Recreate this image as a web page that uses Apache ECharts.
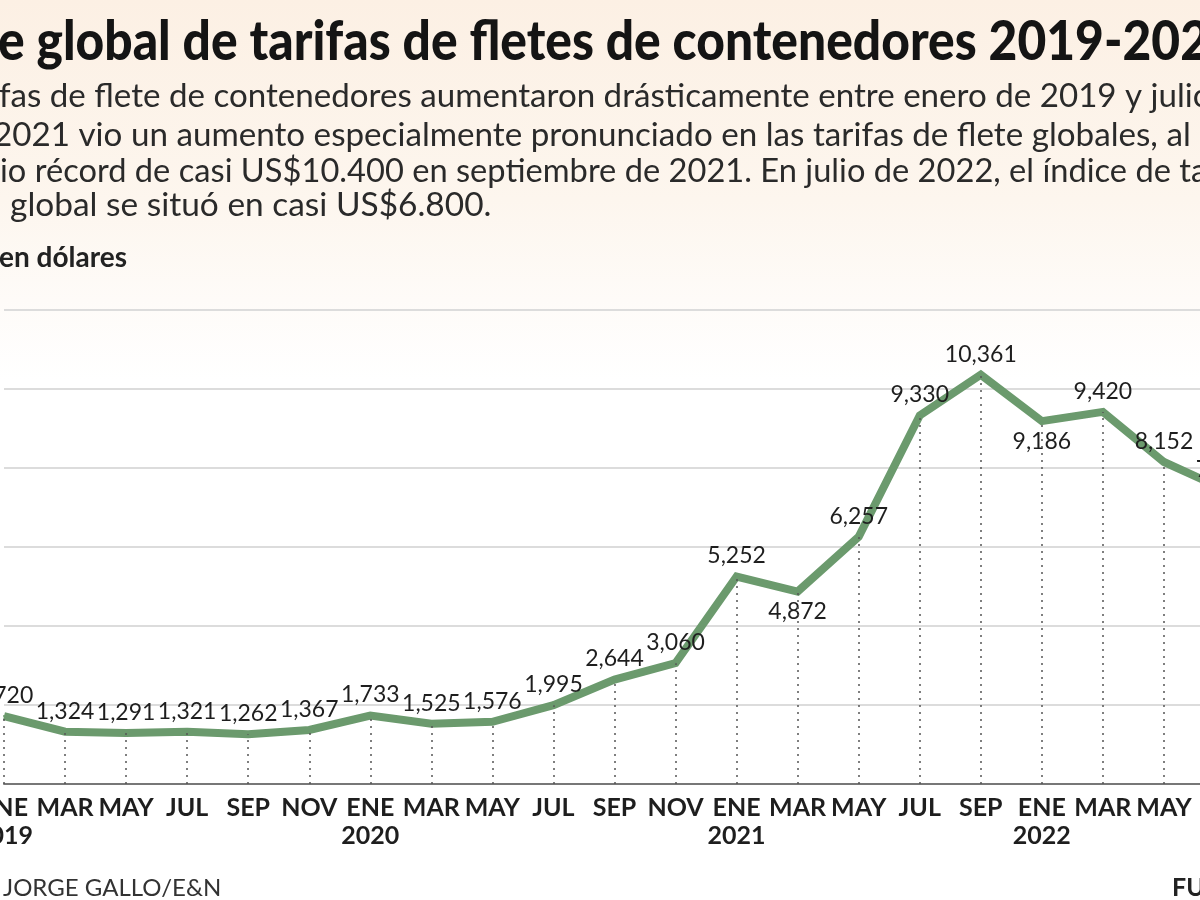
<!DOCTYPE html>
<html><head><meta charset="utf-8">
<script src="https://cdn.jsdelivr.net/npm/echarts@6/dist/echarts.min.js"></script>
<style>
html,body{margin:0;padding:0;background:#fff;}
#c{width:1200px;height:900px;background:linear-gradient(to bottom,#fcf0e4 0px,#fdf6ee 200px,#fefbf8 300px,#ffffff 380px);}
</style>
</head><body><div id="c"></div>
<script>
// ---- data ----
const months = ['ENE','MAR','MAY','JUL','SEP','NOV','ENE','MAR','MAY','JUL','SEP','NOV','ENE','MAR','MAY','JUL','SEP','ENE','MAR','MAY','JUL'];
const years  = ['2019','','','','','','2020','','','','','','2021','','','','','2022','','',''];
const values = [1720,1324,1291,1321,1262,1367,1733,1525,1576,1995,2644,3060,5252,4872,6257,9330,10361,9186,9420,8152,7450];
const yMin = 0, yMax = 12000, yStep = 2000;
const titleText = 'e global de tarifas de fletes de contenedores 2019-2022';
const subLines = [
  'fas de flete de contenedores aumentaron drásticamente entre enero de 2019 y julio',
  '2021 vio un aumento especialmente pronunciado en las tarifas de flete globales, al',
  'io récord de casi US$10.400 en septiembre de 2021. En julio de 2022, el índice de tarifas',
  'global se situó en casi US$6.800.'
];
const unitText = 'en dólares';
const creditText = 'JORGE GALLO/E&N';
const sourceText = 'FUENTE';

// ---- style helpers ----
const labelBelow = [13, 17];
const labelLeft = [19];
const categories = months.map((m, i) => years[i] ? m + '\n' + years[i] : m);
const fmt = v => v.toLocaleString('en-US');

const chart = echarts.init(document.getElementById('c'), null, {renderer: 'canvas'});
const subX = [-1, -7, 0, 10];
const subY = [97, 136, 172, 206];
const subScale = [1.035, 1.037, 1.02, 1.045];

const graphics = [
  {type:'text', x:-2, y:42, scaleX:0.888, style:{text:titleText, font:'900 56px Lato', fill:'#141414', verticalAlign:'middle'}},
  ...subLines.map((t, i) => ({type:'text', x:subX[i], y:subY[i], scaleX:subScale[i], style:{text:t, font:'400 32px Lato', fill:'#2a2a2a', verticalAlign:'middle'}})),
  {type:'text', x:-1, y:258, style:{text:unitText, font:'700 28px Lato', fill:'#222', verticalAlign:'middle'}},
  {type:'text', x:3, y:888, style:{text:creditText, font:'400 24px Lato', fill:'#333', verticalAlign:'middle'}},
  {type:'text', x:1172, y:888, style:{text:sourceText, font:'700 25px Lato', fill:'#222', verticalAlign:'middle'}}
];

chart.setOption({
  backgroundColor: 'transparent',
  animation: false,
  grid: {left: 4, top: 310, width: 1221, height: 474, containLabel: false, outerBoundsMode: 'none'},
  xAxis: {
    type: 'category', data: categories, boundaryGap: false,
    axisLine: {show: true, lineStyle: {color: '#777', width: 2}},
    axisTick: {show: false},
    axisLabel: {interval: 0, margin: 10, color: '#1e1e1e', fontFamily: 'Lato', fontWeight: 700, fontSize: 25, lineHeight: 28, hideOverlap: false},
    splitLine: {show: false}
  },
  yAxis: {
    type: 'value', min: yMin, max: yMax, interval: yStep,
    axisLabel: {show: false}, axisLine: {show: false}, axisTick: {show: false},
    splitLine: {show: true, lineStyle: {color: '#dcdcdc', width: 2}}
  },
  series: [
    {
      type: 'line', z: 1, silent: true, symbol: 'none',
      data: values, lineStyle: {width: 0, opacity: 0},
      markLine: {
        silent: true, symbol: ['none', 'none'], label: {show: false},
        lineStyle: {type: [2, 5], color: '#555', width: 1.5},
        emphasis: {disabled: true},
        data: values.map((v, i) => [{coord: [i, yMin]}, {coord: [i, v]}])
      }
    },
    {
      type: 'line', z: 3, symbol: 'circle', symbolSize: 2, showSymbol: true, showAllSymbol: true, silent: true,
      itemStyle: {color: '#6b9a6d'},
      lineStyle: {color: '#6b9a6d', width: 8, join: 'miter'},
      data: values.map((v, i) => {
        const d = {value: v};
        if (labelBelow.includes(i)) d.label = {position: 'bottom', distance: 8};
        if (labelLeft.includes(i)) d.label = {offset: [-29, 0]};
        return d;
      }),
      label: {
        show: true, position: 'top', distance: 8,
        formatter: p => fmt(p.value),
        fontFamily: 'Lato', fontSize: 23, color: '#1e1e1e'
      },
      labelLayout: {hideOverlap: false}
    }
  ],
  graphic: graphics
});
</script>
</body></html>
